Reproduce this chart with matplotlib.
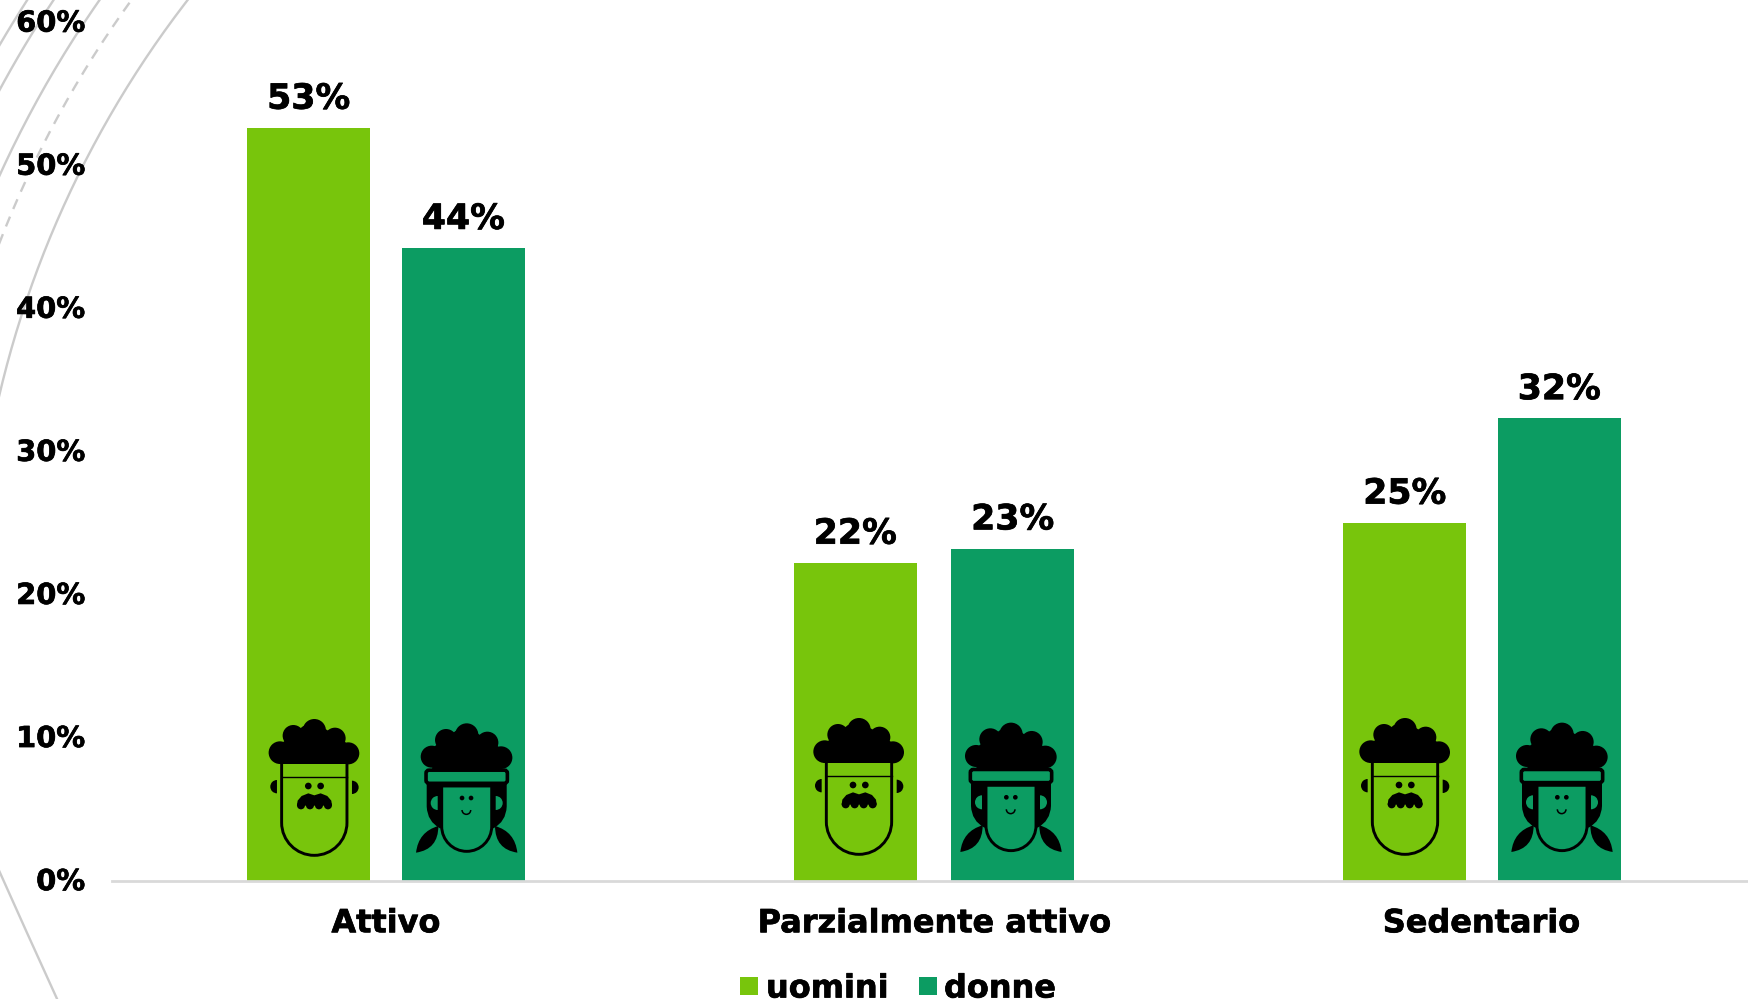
import numpy as np
import matplotlib
matplotlib.use('Agg')
import matplotlib.pyplot as plt
import matplotlib.patheffects as pe
from matplotlib.patches import Circle, Arc, Wedge, Polygon, PathPatch, FancyBboxPatch, Rectangle
from matplotlib.path import Path
from matplotlib.transforms import ScaledTranslation

W, H = 1749, 999

kategorie = ['Attivo', 'Parzialmente attivo', 'Sedentario']
uomini = [52.6, 22.2, 25.0]
donne = [44.2, 23.2, 32.3]
y_ticks = [0, 10, 20, 30, 40, 50, 60]

ZIELONY = '#78C50C'
CIEMNY = '#0C9C62'
SZARY = '#CBCBCB'

plt.rcParams['font.family'] = ['DejaVu Sans']
plt.rcParams['font.weight'] = 'bold'

fig = plt.figure(figsize=(W / 100, H / 100), dpi=100, facecolor='white')
grubo = [pe.withStroke(linewidth=0.5, foreground='black')]


# osie w pikselach (tlo i ikonki)
def osie_px(z):
    a = fig.add_axes([0, 0, 1, 1], zorder=z)
    a.set_xlim(0, W)
    a.set_ylim(H, 0)
    a.axis('off')
    return a


tlo = osie_px(0)
ikony = osie_px(2)

# luki w tle
sx, sy = 1003, 631
for r, styl in [(1031, '-'), (1076, (0, (4.5, 3.5))), (1102, '-'), (1140, '-'), (1162, '-')]:
    t = np.radians(np.linspace(180, 250, 300))
    tlo.plot(sx + r * np.cos(t), sy + r * np.sin(t), color=SZARY, lw=1.7, ls=styl)
dol = Path([(-3, 866), (26, 931), (58, 1001)], [Path.MOVETO, Path.CURVE3, Path.CURVE3])
tlo.add_patch(PathPatch(dol, fc='none', ec=SZARY, lw=1.7))

# wykres, os x w pikselach bo slupki nie sa rowno
ax = fig.add_axes([112 / W, 1 - 880.5 / H, 1644 / W, (880.5 - 22) / H], zorder=1)
ax.patch.set_alpha(0)
x_kat = [386, 934.5, 1481.5]
x_u = [308.65, 855.3, 1404.7]
x_d = [463.35, 1012.7, 1559.3]
szer = 122.7
s1 = ax.bar(x_u, uomini, szer, color=ZIELONY)
s2 = ax.bar(x_d, donne, szer, color=CIEMNY)
ax.set_xlim(112, 1756)
ax.set_ylim(0, 60)
ax.set_yticks(y_ticks)
ax.set_yticklabels([f'{v}%' for v in y_ticks], fontsize=20.8, fontweight='bold')
ax.set_xticks(x_kat)
ax.set_xticklabels(kategorie, fontsize=23, fontweight='bold')
ax.tick_params(axis='y', length=0, pad=19)
ax.tick_params(axis='x', length=0, pad=20)
przes = ScaledTranslation(-0.5 / 72, 1 / 72, fig.dpi_scale_trans)
for l in ax.get_yticklabels():
    l.set_transform(l.get_transform() + przes)
    l.set_path_effects(grubo)
for l in ax.get_xticklabels():
    l.set_path_effects(grubo)
for k in ['top', 'left', 'right']:
    ax.spines[k].set_visible(False)
ax.spines['bottom'].set_color('#D9D9D9')
ax.spines['bottom'].set_linewidth(2)

for serie, wart in [(s1, uomini), (s2, donne)]:
    for b, v in zip(serie, wart):
        ax.annotate(f'{round(v)}%', (b.get_x() + b.get_width() / 2, v), xytext=(0, 21),
                    textcoords='offset points', ha='center', va='center',
                    fontsize=25, fontweight='bold', path_effects=grubo)

# legenda
ikony.add_patch(Rectangle((740, 977), 18, 18, fc=ZIELONY, ec='none'))
ikony.add_patch(Rectangle((919, 977), 18, 18, fc=CIEMNY, ec='none'))
ikony.text(766, 997.5, 'uomini', fontsize=23, fontweight='bold', va='baseline', clip_on=False, path_effects=grubo)
ikony.text(944, 997.5, 'donne', fontsize=23, fontweight='bold', va='baseline', clip_on=False, path_effects=grubo)

K = 0.5523


# ikonka mezczyzny, wspolrzedne z powiekszenia (x3)
def mezczyzna(cx, dy):
    px = lambda a, b: (cx + (a - 253) / 3, 690 + dy + b / 3)
    kolo = lambda a, b, r: ikony.add_patch(Circle(px(a, b), r / 3, fc='black', ec='none'))
    for a, b, r in [(253, 122, 35), (190, 137, 32), (315, 145, 32), (150, 188, 34), (355, 190, 33)]:
        kolo(a, b, r)
    ikony.add_patch(Polygon([px(160, 156), px(220, 108), px(288, 118), px(348, 158),
                             px(355, 222), px(150, 222)], fc='black', ec='none'))
    # twarz
    r = 98
    l, p, d = 155, 351, 496
    f = Path([px(l, 222), px(l, d - r), px(l, d - r + K * r), px(253 - K * r, d), px(253, d),
              px(253 + K * r, d), px(p, d - r + K * r), px(p, d - r), px(p, 222)],
             [Path.MOVETO, Path.LINETO, Path.CURVE4, Path.CURVE4, Path.CURVE4,
              Path.CURVE4, Path.CURVE4, Path.CURVE4, Path.LINETO])
    ikony.add_patch(PathPatch(f, fc='none', ec='black', lw=2.1))
    ikony.plot(*zip(px(l, 260), px(p, 260)), color='black', lw=1.0)
    kolo(235, 288, 10)
    kolo(272, 288, 10)
    # uszy
    ikony.add_patch(Wedge(px(141, 290), 20 / 3, 90, 270, fc='black', ec='none'))
    ikony.add_patch(Wedge(px(366, 292), 20 / 3, -90, 90, fc='black', ec='none'))
    # wasy
    ikony.add_patch(Polygon([px(201, 347), px(203, 332), px(215, 318), px(235, 310), px(253, 316),
                             px(272, 310), px(292, 318), px(304, 332), px(306, 347)],
                            fc='black', ec='none'))
    for a in [213, 240, 267, 294]:
        kolo(a, 346, 12)


# ikonka kobiety
def kobieta(cx, dy, kolor):
    px = lambda a, b: (cx + (a - 710) / 3, 690 + dy + b / 3)
    kolo = lambda a, b, r: ikony.add_patch(Circle(px(a, b), r / 3, fc='black', ec='none'))
    for a, b, r in [(710, 135, 35), (648, 150, 33), (772, 158, 33), (605, 200, 33), (813, 203, 34)]:
        kolo(a, b, r)
    ikony.add_patch(Polygon([px(615, 168), px(678, 122), px(742, 130), px(805, 170),
                             px(813, 245), px(605, 245)], fc='black', ec='none'))
    # warkocze
    for z in [1, -1]:
        q = lambda a, b: px(710 + z * (a - 710), b)
        w = Path([q(625, 408), q(565, 425), q(558, 488), q(625, 478), q(625, 408)],
                 [Path.MOVETO, Path.CURVE3, Path.CURVE3, Path.CURVE3, Path.CURVE3])
        ikony.add_patch(PathPatch(w, fc='black', ec='none'))
    # wlosy z tylu
    w = Path([px(590, 270), px(590, 350), px(592, 395), px(630, 415), px(790, 415), px(828, 395),
              px(830, 350), px(830, 270), px(590, 270)],
             [Path.MOVETO, Path.LINETO, Path.CURVE3, Path.CURVE3, Path.LINETO, Path.CURVE3,
              Path.CURVE3, Path.LINETO, Path.CLOSEPOLY])
    ikony.add_patch(PathPatch(w, fc='black', ec='none'))
    # opaska
    ikony.add_patch(FancyBboxPatch(px(588, 240.5), 244 / 3, 39.5 / 3, boxstyle='round,pad=0,rounding_size=3',
                                   fc=kolor, ec='black', lw=2.6))
    # twarz
    r = 75
    l, p, d = 635, 785, 484
    f = Path([px(l, 288), px(l, d - r), px(l, d - r + K * r), px(710 - K * r, d), px(710, d),
              px(710 + K * r, d), px(p, d - r + K * r), px(p, d - r), px(p, 288), px(l, 288)],
             [Path.MOVETO, Path.LINETO, Path.CURVE4, Path.CURVE4, Path.CURVE4,
              Path.CURVE4, Path.CURVE4, Path.CURVE4, Path.LINETO, Path.CLOSEPOLY])
    ikony.add_patch(PathPatch(f, fc=kolor, ec='black', lw=2.1))
    # uszy
    ikony.add_patch(Wedge(px(623, 339), 21 / 3, 90, 270, fc=kolor, ec='none'))
    ikony.add_patch(Wedge(px(797, 339), 21 / 3, -90, 90, fc=kolor, ec='none'))
    kolo(696, 324, 7)
    kolo(723, 324, 7)
    ikony.add_patch(Arc(px(709, 360), 26 / 3, 26 / 3, theta1=0, theta2=180, ec='black', lw=1.1))


for c, dy in [(314.3, 0), (859, -1), (1405, -1)]:
    mezczyzna(c, dy)
for c, dy in [(466.7, 0), (1011, -0.7), (1562, -0.7)]:
    kobieta(c, dy, CIEMNY)

fig.savefig('out.png', dpi=100)
